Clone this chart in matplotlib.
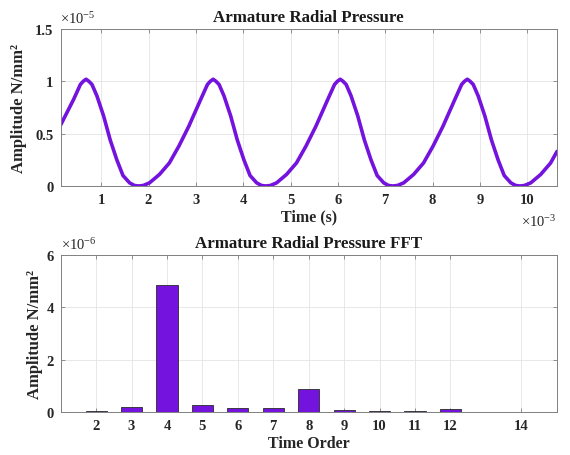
import matplotlib

matplotlib.use("Agg")
import matplotlib.pyplot as plt

plt.rcParams["font.family"] = ["Liberation Serif", "DejaVu Serif"]
plt.rcParams["mathtext.fontset"] = "custom"
plt.rcParams["mathtext.rm"] = "Liberation Serif"
plt.rcParams["mathtext.it"] = "Liberation Serif:italic"
plt.rcParams["mathtext.bf"] = "Liberation Serif:bold"

# pressure waveform, time in ms (x1e-3 s), amplitude in x1e-5 N/mm^2
time_ms = [
    0.14, 0.42, 0.56, 0.62, 0.68, 0.74, 0.805, 0.91, 1.05, 1.19, 1.33, 1.46, 1.60, 1.70, 1.79,
    1.89, 2.02, 2.23, 2.44, 2.64, 2.85, 3.105, 3.245, 3.305, 3.365,
    3.425, 3.49, 3.595, 3.735, 3.875, 4.015, 4.145, 4.285, 4.385, 4.475,
    4.575, 4.705, 4.915, 5.125, 5.325, 5.535, 5.79, 5.93, 5.99, 6.05,
    6.11, 6.175, 6.28, 6.42, 6.56, 6.70, 6.83, 6.97, 7.07, 7.16,
    7.26, 7.39, 7.60, 7.81, 8.01, 8.22, 8.475, 8.615, 8.675, 8.735,
    8.795, 8.86, 8.965, 9.105, 9.245, 9.385, 9.515, 9.655, 9.755, 9.845,
    9.945, 10.075, 10.285, 10.495, 10.63,
]
pressure_e5 = [
    0.58, 0.83, 0.97, 1.00, 1.02, 1.00, 0.97, 0.86, 0.67, 0.44, 0.25, 0.10, 0.03, 0.005, 0.0,
    0.005, 0.03, 0.11, 0.22, 0.38, 0.57, 0.83, 0.97, 1.00, 1.02,
    1.00, 0.97, 0.86, 0.67, 0.44, 0.25, 0.10, 0.03, 0.005, 0.0,
    0.005, 0.03, 0.11, 0.22, 0.38, 0.57, 0.83, 0.97, 1.00, 1.02,
    1.00, 0.97, 0.86, 0.67, 0.44, 0.25, 0.10, 0.03, 0.005, 0.0,
    0.005, 0.03, 0.11, 0.22, 0.38, 0.57, 0.83, 0.97, 1.00, 1.02,
    1.00, 0.97, 0.86, 0.67, 0.44, 0.25, 0.10, 0.03, 0.005, 0.0,
    0.005, 0.03, 0.11, 0.22, 0.33,
]

# FFT harmonics, amplitude in x1e-6 N/mm^2
orders = [1, 2, 3, 4, 5, 6, 7, 8, 9, 10, 11, 12, 14, 15]
fft_amp_e6 = [0.03, 0.06, 0.22, 4.87, 0.27, 0.17, 0.17, 0.89, 0.09, 0.06, 0.06, 0.14, 0.025, 0.025]
order_ticks = [2, 3, 4, 5, 6, 7, 8, 9, 10, 11, 12, 14]

purple = "#7412de"
grey = "#808080"
txt = "#262626"

W, H = 570, 456
fig = plt.figure(figsize=(W / 100, H / 100), dpi=100)


def px_axes(left, top, right, bottom):
    return fig.add_axes([left / W, 1 - bottom / H, (right - left) / W, (bottom - top) / H])


def style(ax):
    for s in ax.spines.values():
        s.set_color(grey)
        s.set_linewidth(0.7)
    ax.tick_params(direction="in", top=True, right=True, length=3, width=0.6,
                   color=grey, labelsize=10.5, labelcolor=txt, pad=5)
    for lab in ax.get_xticklabels() + ax.get_yticklabels():
        lab.set_fontweight("bold")
    ax.grid(True, color="#e4e4e4", linewidth=0.6)
    ax.set_axisbelow(True)


# top: time waveform -------------------------------------------------------
ax1 = px_axes(60.5, 30, 557, 187)
ax1.plot(time_ms, pressure_e5, color=purple, lw=2.6, solid_capstyle="round",
         solid_joinstyle="round")
ax1.set_xlim(0.14, 10.63)
ax1.set_ylim(0, 1.5)
ax1.set_xticks(range(1, 11))
ax1.set_yticks([0, 0.5, 1, 1.5])
ax1.set_yticklabels(["0", "0.5", "1", "1.5"])
style(ax1)
ax1.set_title("Armature Radial Pressure", fontsize=12.2, fontweight="bold",
              color="#1a1a1a", pad=6)
ax1.set_xlabel("Time (s)", fontsize=11.5, fontweight="bold", color=txt, labelpad=2)
ax1.set_ylabel("Amplitude N/mm²", fontsize=12, fontweight="bold", color=txt)
ax1.yaxis.set_label_coords(-0.067, 0.5)
ax1.text(0.0, 1.02, r"×10$^{-5}$", transform=ax1.transAxes, ha="left", va="bottom",
         fontsize=10.5, color=txt)
ax1.text(1.0, -0.17, r"×10$^{-3}$", transform=ax1.transAxes, ha="right", va="top",
         fontsize=10.5, color=txt)

# bottom: FFT bars ---------------------------------------------------------
ax2 = px_axes(60.7, 256, 556.7, 413.3)
ax2.bar(orders, fft_amp_e6, width=0.6, color=purple, edgecolor="#2a2a2a", linewidth=0.6)
ax2.set_xlim(1, 15)
ax2.set_ylim(0, 6)
ax2.set_xticks(order_ticks)
ax2.set_yticks([0, 2, 4, 6])
style(ax2)
ax2.set_title("Armature Radial Pressure FFT", fontsize=12.2, fontweight="bold",
              color="#1a1a1a", pad=6)
ax2.set_xlabel("Time Order", fontsize=11.5, fontweight="bold", color=txt, labelpad=2)
ax2.set_ylabel("Amplitude N/mm²", fontsize=12, fontweight="bold", color=txt)
ax2.yaxis.set_label_coords(-0.036, 0.5)
ax2.text(0.0, 1.02, r"×10$^{-6}$", transform=ax2.transAxes, ha="left", va="bottom",
         fontsize=10.5, color=txt)

fig.savefig("out.png", dpi=100, facecolor="white")
